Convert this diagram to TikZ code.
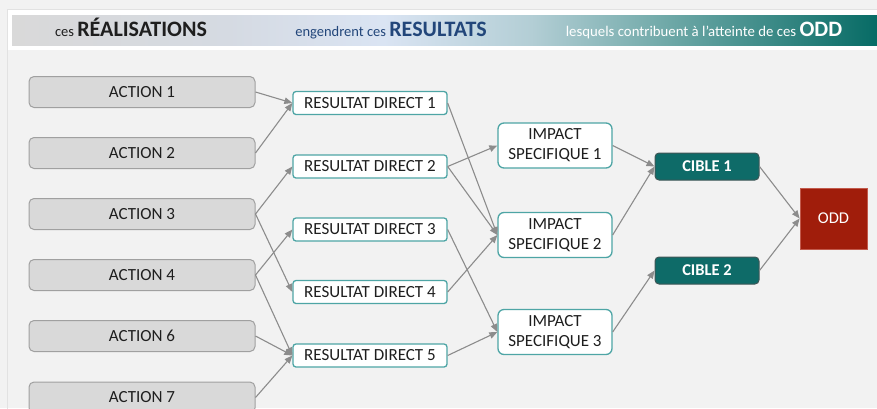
\documentclass[tikz,border=0pt]{standalone}
\usepackage{fontspec}
\setmainfont{Carlito}
\usetikzlibrary{arrows.meta}
\definecolor{bg}{HTML}{F2F2F2}
\definecolor{panelline}{HTML}{E2E2E2}
\definecolor{actfill}{HTML}{D9D9D9}
\definecolor{actdraw}{HTML}{A0A0A0}
\definecolor{resdraw}{HTML}{4EA5A5}
\definecolor{ciblefill}{HTML}{0E6B68}
\definecolor{cibledraw}{HTML}{3E5656}
\definecolor{oddfill}{HTML}{A01D0B}
\definecolor{odddraw}{HTML}{C25A4C}
\definecolor{arrowc}{HTML}{8C8C8C}
\definecolor{txt}{HTML}{1E1E1E}
\definecolor{hdrblue}{HTML}{22467A}
\definecolor{hA}{HTML}{D9D9D9}
\definecolor{hB}{HTML}{D5DAE2}
\definecolor{hC}{HTML}{DAE4F3}
\definecolor{hD}{HTML}{B3CED5}
\definecolor{hE}{HTML}{6EA8A7}
\definecolor{hF}{HTML}{076B65}
\pgfdeclarehorizontalshading{hdrshade}{100bp}{color(0bp)=(hA); color(25bp)=(hA); color(37.5bp)=(hB); color(46.5bp)=(hC); color(55bp)=(hD); color(63bp)=(hE); color(75bp)=(hF); color(100bp)=(hF)}
\tikzset{
  actionbox/.style={draw=actdraw, fill=actfill, line width=1pt, rounded corners=5pt,
    minimum width=226pt, minimum height=31pt, inner sep=0pt, text=txt,
    font=\fontsize{17}{18}\selectfont},
  resbox/.style={draw=resdraw, fill=white, line width=1.3pt, rounded corners=3pt,
    minimum width=154pt, minimum height=23pt, inner sep=0pt, text=txt,
    font=\fontsize{17}{18}\selectfont},
  impbox/.style={draw=resdraw, fill=white, line width=1.3pt, rounded corners=6pt,
    minimum width=114pt, minimum height=45pt, inner sep=0pt, text=txt, align=center,
    font=\fontsize{17}{20}\selectfont},
  ciblebox/.style={draw=cibledraw, fill=ciblefill, line width=1pt, rounded corners=4pt,
    minimum width=104pt, minimum height=27pt, inner sep=0pt, text=white,
    font=\fontsize{16.5}{18}\selectfont\bfseries},
  oddbox/.style={draw=odddraw, fill=oddfill, line width=0.8pt,
    minimum width=67pt, minimum height=61pt, inner sep=0pt, text=white,
    font=\fontsize{16.5}{18}\selectfont},
  conn/.style={draw=arrowc, line width=1.1pt, -{Triangle[length=8pt,width=6.5pt]}},
}
\begin{document}
\begin{tikzpicture}[x=1pt,y=-1pt]
\useasboundingbox (0,0) rectangle (877,408);
\fill[bg] (0,0) rectangle (877,408);
% panel
\draw[panelline, line width=1pt] (7,420) -- (7,9) -- (880,9);
\fill[white] (7.5,9.5) rectangle (877,50);
\shade[shading=hdrshade] (12,15) rectangle (877,45);
% header texts
\node[anchor=base, inner sep=0pt, text=txt] (h1) at (131,36)
  {\fontsize{14.5}{16}\selectfont ces \fontsize{22}{24}\selectfont\bfseries RÉALISATIONS};
\node[anchor=base, inner sep=0pt, text=hdrblue] (h2) at (391,36)
  {\fontsize{14.5}{16}\selectfont engendrent ces \fontsize{22}{24}\selectfont\bfseries RESULTATS};
\node[anchor=base, inner sep=0pt, text=white] (h3) at (704,36)
  {\fontsize{14.8}{16}\selectfont lesquels contribuent à l’atteinte de ces \fontsize{22}{24}\selectfont\bfseries ODD};
% actions
\node[actionbox] (a1) at (142,92) {ACTION 1};
\node[actionbox] (a2) at (142,153) {ACTION 2};
\node[actionbox] (a3) at (142,214) {ACTION 3};
\node[actionbox] (a4) at (142,275) {ACTION 4};
\node[actionbox] (a6) at (142,336) {ACTION 6};
\node[actionbox] (a7) at (142,397.5) {ACTION 7};
% results
\node[resbox] (r1) at (370,103) {RESULTAT DIRECT 1};
\node[resbox] (r2) at (370,166.5) {RESULTAT DIRECT 2};
\node[resbox] (r3) at (370,229.5) {RESULTAT DIRECT 3};
\node[resbox] (r4) at (370,292) {RESULTAT DIRECT 4};
\node[resbox] (r5) at (370,355.5) {RESULTAT DIRECT 5};
% impacts
\node[impbox] (i1) at (555,145.5) {IMPACT\\SPECIFIQUE 1};
\node[impbox] (i2) at (555,235) {IMPACT\\SPECIFIQUE 2};
\node[impbox] (i3) at (555,332) {IMPACT\\SPECIFIQUE 3};
% cibles
\node[ciblebox] (c1) at (707,166.5) {CIBLE 1};
\node[ciblebox] (c2) at (707,270.5) {CIBLE 2};
% odd
\node[oddbox] (odd) at (833.5,218.5) {ODD};
% connectors
\draw[conn] (a1.east) -- (r1.west);
\draw[conn] (a2.east) -- (r1.west);
\draw[conn] (a3.east) -- (r2.west);
\draw[conn] (a3.east) -- (r4.west);
\draw[conn] (a4.east) -- (r3.west);
\draw[conn] (a4.east) -- (r5.west);
\draw[conn] (a6.east) -- (r5.west);
\draw[conn] (a7.east) -- (r5.west);
\draw[conn] (r1.east) -- (i2.west);
\draw[conn] (r2.east) -- (i1.west);
\draw[conn] (r2.east) -- (i2.west);
\draw[conn] (r3.east) -- (i3.west);
\draw[conn] (r4.east) -- (i2.west);
\draw[conn] (r5.east) -- (i3.west);
\draw[conn] (i1.east) -- (c1.west);
\draw[conn] (i2.east) -- (c1.west);
\draw[conn] (i3.east) -- (c2.west);
\draw[conn] (c1.east) -- (odd.west);
\draw[conn] (c2.east) -- (odd.west);
\end{tikzpicture}
\end{document}
